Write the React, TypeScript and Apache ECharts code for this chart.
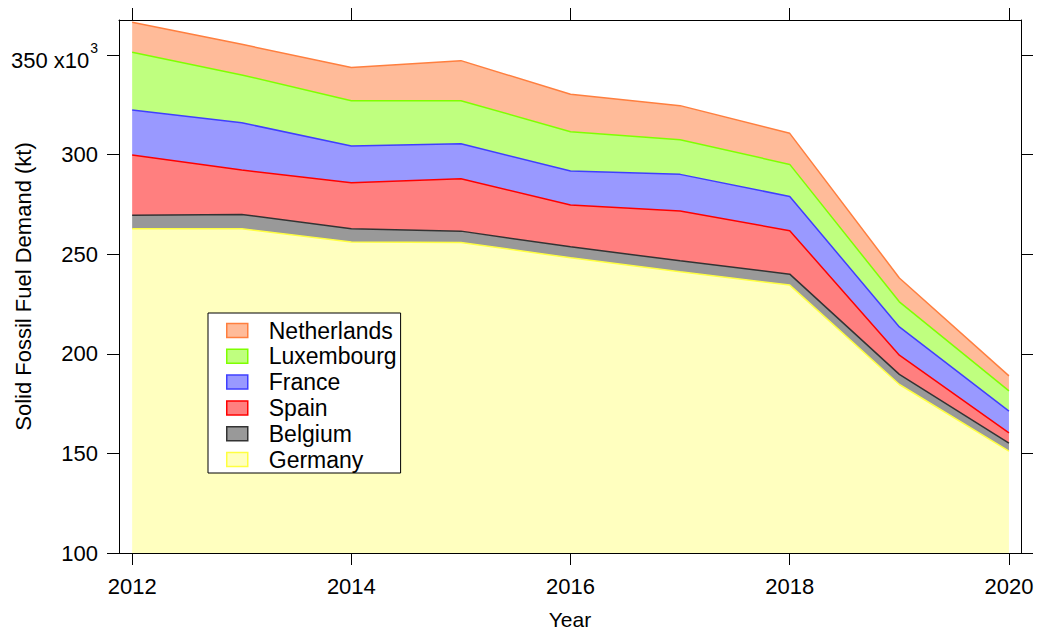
import React, { useEffect, useRef } from "react";
import * as echarts from "echarts";

const years = [2012, 2013, 2014, 2015, 2016, 2017, 2018, 2019, 2020];
const germany = [262.8, 262.8, 256.1, 255.9, 248.2, 241.2, 234.5, 184.6, 151.1];
const belgium = [6.8, 7.2, 6.7, 5.7, 5.5, 5.5, 5.5, 5.1, 4.1];
const spain = [30.2, 22.3, 23.1, 26.3, 21.0, 25.0, 21.8, 9.6, 5.1];
const france = [22.6, 23.7, 18.4, 17.6, 17.1, 18.4, 17.2, 14.2, 10.9];
const luxembourg = [29.0, 24.0, 22.8, 21.6, 19.7, 17.4, 16.1, 12.6, 10.2];
const netherlands = [15.1, 15.4, 16.6, 20.1, 18.8, 17.1, 15.6, 12.0, 7.5];

const seriesNames = ["Germany", "Belgium", "Spain", "France", "Luxembourg", "Netherlands"];
const seriesValues = [germany, belgium, spain, france, luxembourg, netherlands];
const fillColors = ["#FFFFBF", "#999999", "#FF7F7F", "#9999FF", "#BFFF7F", "#FFBB99"];
const lineColors = ["#FFFF40", "#333333", "#FF0000", "#3F3FFF", "#7FFF00", "#FF7F3F"];

const xTicks = [2012, 2014, 2016, 2018, 2020];
const yTicks = [100, 150, 200, 250, 300, 350];

const FONT = "'Liberation Sans', Arial, sans-serif";

export default function App() {
  const ref = useRef<HTMLDivElement>(null);

  useEffect(() => {
    if (!ref.current) return;
    const chart = echarts.init(ref.current, undefined, { renderer: "svg" });

    const xMin = 2011.88;
    const xMax = 2020.11;
    const yMin = 100;
    const yMax = 367.6;

    // value first, year second, so that the stack runs along the y dimension
    const series = seriesNames.map((name, i) => ({
      name,
      type: "line",
      stack: "total",
      symbol: "none",
      xAxisIndex: 0,
      yAxisIndex: 0,
      encode: { x: 1, y: 0 },
      data: years.map((y, j) => [seriesValues[i][j], y]),
      lineStyle: { color: lineColors[i], width: 1.5 },
      itemStyle: { color: fillColors[i] },
      areaStyle: { color: fillColors[i], opacity: 1 },
      emphasis: { disabled: true },
      z: 2,
    }));

    const legendData = seriesNames
      .map((name, i) => ({
        name,
        itemStyle: { color: fillColors[i], borderColor: lineColors[i], borderWidth: 1.5 },
      }))
      .reverse();

    const axisLineStyle = { color: "#000", width: 1 };

    chart.setOption({
      animation: false,
      textStyle: { fontFamily: FONT },
      grid: { left: 119, top: 20, right: 16, bottom: 79, containLabel: false, outerBoundsMode: "none" },
      legend: {
        show: true,
        orient: "vertical",
        left: 208,
        top: 313,
        icon: "rect",
        itemWidth: 21,
        itemHeight: 14,
        itemGap: 2.8,
        padding: [6, 4, 2, 18],
        backgroundColor: "#ffffff",
        borderColor: "#000000",
        borderWidth: 1,
        borderRadius: 0,
        selectedMode: false,
        textStyle: {
          fontFamily: FONT,
          fontSize: 23,
          color: "#000",
          lineHeight: 23,
          padding: [0, 0, 0, 16],
        },
        data: legendData,
      },
      xAxis: [
        {
          type: "value",
          position: "bottom",
          min: xMin,
          max: xMax,
          axisLine: { show: true, onZero: false, lineStyle: axisLineStyle },
          axisTick: { show: true, length: 12, customValues: xTicks, lineStyle: axisLineStyle },
          axisLabel: {
            show: true,
            customValues: xTicks,
            formatter: (v: number) => String(v),
            fontSize: 22,
            fontFamily: FONT,
            color: "#000",
            margin: 22,
          },
          splitLine: { show: false },
          name: "Year",
          nameLocation: "middle",
          nameGap: 56,
          nameMoveOverlap: false,
          nameTextStyle: { fontSize: 21, fontFamily: FONT, color: "#000" },
        },
        {
          type: "value",
          position: "top",
          min: xMin,
          max: xMax,
          axisLine: { show: true, onZero: false, lineStyle: axisLineStyle },
          axisTick: { show: true, length: 12, customValues: xTicks, lineStyle: axisLineStyle },
          axisLabel: { show: false },
          splitLine: { show: false },
        },
      ],
      yAxis: [
        {
          type: "value",
          position: "left",
          min: yMin,
          max: yMax,
          axisLine: { show: true, onZero: false, lineStyle: axisLineStyle },
          axisTick: { show: true, length: 12, customValues: yTicks, lineStyle: axisLineStyle },
          axisLabel: {
            show: true,
            customValues: yTicks,
            fontSize: 22,
            fontFamily: FONT,
            color: "#000",
            margin: 21,
            formatter: (v: number) => (v === 350 ? "{a|350 x10}{s|3}" : String(v)),
            rich: {
              a: { fontSize: 22, fontFamily: FONT, color: "#000", lineHeight: 22, padding: [10, 0, 0, 0] },
              s: { fontSize: 14, fontFamily: FONT, color: "#000", lineHeight: 14, padding: [2, 0, 16, 1] },
            },
          },
          splitLine: { show: false },
          name: "Solid Fossil Fuel Demand (kt)",
          nameLocation: "middle",
          nameGap: 85,
          nameMoveOverlap: false,
          nameTextStyle: { fontSize: 22, fontFamily: FONT, color: "#000" },
        },
        {
          type: "value",
          position: "right",
          min: yMin,
          max: yMax,
          axisLine: { show: true, onZero: false, lineStyle: axisLineStyle },
          axisTick: { show: true, length: 12, customValues: yTicks, lineStyle: axisLineStyle },
          axisLabel: { show: false },
          splitLine: { show: false },
        },
      ],
      series,
    });

    return () => {
      chart.dispose();
    };
  }, []);

  return (
    <div
      ref={ref}
      style={{ position: "absolute", left: 0, top: 0, width: 1037, height: 632, background: "#fff" }}
    />
  );
}
